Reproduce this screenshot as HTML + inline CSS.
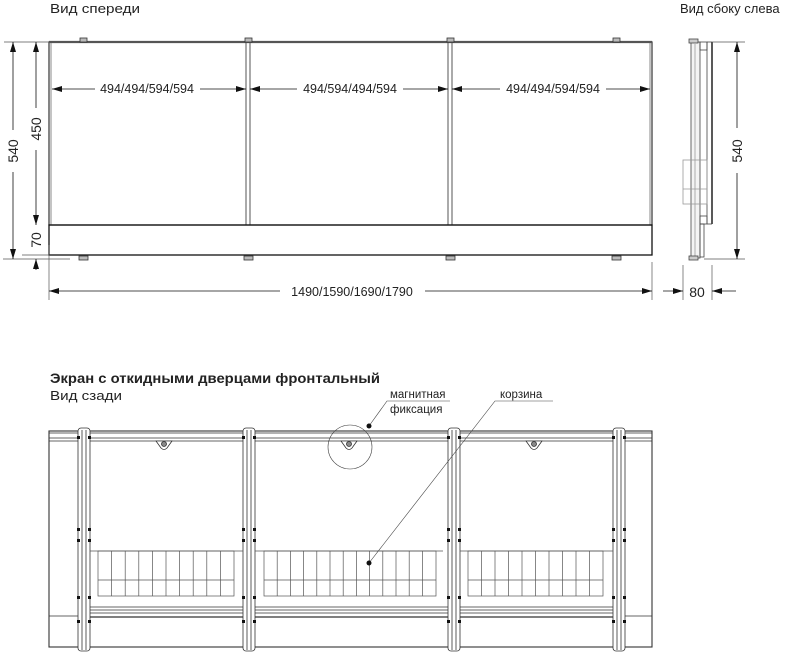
<!DOCTYPE html>
<html><head><meta charset="utf-8"><style>body{margin:0;background:#fff}svg{display:block}text{font-family:"Liberation Sans","DejaVu Sans",sans-serif;fill:#222}</style></head>
<body>
<svg width="800" height="666" viewBox="0 0 800 666" xmlns="http://www.w3.org/2000/svg">
<defs>
<marker id="a" viewBox="0 0 10 6" refX="10" refY="3" markerWidth="10" markerHeight="6" orient="auto-start-reverse" markerUnits="userSpaceOnUse"><path d="M0,0L10,3L0,6z" fill="#111"/></marker>
</defs>
<text x="50" y="13" font-size="13" textLength="90" lengthAdjust="spacingAndGlyphs">Вид спереди</text>
<text x="680" y="13" font-size="13">Вид сбоку слева</text>

<!-- front view -->
<g stroke="#333" fill="none">
<rect x="49" y="42" width="603" height="183" stroke-width="1.2"/>
<line x1="49" y1="42" x2="652" y2="42" stroke-width="2.2" stroke="#555"/>
<line x1="51" y1="43" x2="51" y2="225" stroke="#888"/>
<line x1="650" y1="43" x2="650" y2="225" stroke="#888"/>
<rect x="246" y="42" width="4" height="183" stroke="#555"/>
<rect x="448" y="42" width="4" height="183" stroke="#555"/>
<rect x="49" y="225" width="603" height="30" stroke-width="1.3" stroke="#111"/>
</g>
<g fill="#bbb" stroke="#333" stroke-width="0.8">
<rect x="80" y="38" width="7" height="4"/><rect x="245" y="38" width="7" height="4"/><rect x="447" y="38" width="7" height="4"/><rect x="613" y="38" width="7" height="4"/>
<rect x="79" y="256" width="9" height="4"/><rect x="244" y="256" width="9" height="4"/><rect x="446" y="256" width="9" height="4"/><rect x="612" y="256" width="9" height="4"/>
</g>
<g stroke="#555" stroke-width="0.7">
<line x1="4" y1="42" x2="49" y2="42"/><line x1="3" y1="259" x2="70" y2="259"/><line x1="22" y1="255" x2="49" y2="255"/>
<line x1="49" y1="245" x2="49" y2="300"/><line x1="652" y1="262" x2="652" y2="300"/>
</g>
<g stroke="#111" stroke-width="0.8" fill="none">
<line x1="13" y1="42" x2="13" y2="130" marker-start="url(#a)"/><line x1="13" y1="172" x2="13" y2="259" marker-end="url(#a)"/>
<line x1="36" y1="42" x2="36" y2="108" marker-start="url(#a)"/><line x1="36" y1="150" x2="36" y2="225" marker-end="url(#a)"/>
<line x1="36" y1="270" x2="36" y2="259" marker-end="url(#a)"/>
<line x1="52" y1="89" x2="95" y2="89" marker-start="url(#a)"/><line x1="200" y1="89" x2="246" y2="89" marker-end="url(#a)"/>
<line x1="250" y1="89" x2="297" y2="89" marker-start="url(#a)"/><line x1="403" y1="89" x2="448" y2="89" marker-end="url(#a)"/>
<line x1="452" y1="89" x2="500" y2="89" marker-start="url(#a)"/><line x1="606" y1="89" x2="650" y2="89" marker-end="url(#a)"/>
<line x1="49" y1="291" x2="280" y2="291" marker-start="url(#a)"/><line x1="425" y1="291" x2="652" y2="291" marker-end="url(#a)"/>
</g>
<g font-size="12.5">
<text x="147" y="93" text-anchor="middle">494/494/594/594</text>
<text x="350" y="93" text-anchor="middle">494/594/494/594</text>
<text x="553" y="93" text-anchor="middle">494/494/594/594</text>
<text x="352" y="296" text-anchor="middle">1490/1590/1690/1790</text>
<text transform="translate(18,151) rotate(-90)" text-anchor="middle" font-size="14">540</text>
<text transform="translate(41,129) rotate(-90)" text-anchor="middle" font-size="14">450</text>
<text transform="translate(41,240) rotate(-90)" text-anchor="middle" font-size="14">70</text>
<text transform="translate(742,151) rotate(-90)" text-anchor="middle" font-size="14">540</text>
<text x="697" y="297" text-anchor="middle" font-size="14">80</text>
</g>

<!-- side view -->
<g stroke="#444" fill="none" stroke-width="0.8">
<rect x="691" y="42" width="9" height="216" fill="#f4f4f4"/>
<line x1="695" y1="44" x2="695" y2="256" stroke="#999"/>
<rect x="689" y="39" width="9" height="4" fill="#ccc"/><rect x="689" y="256" width="9" height="4" fill="#ccc"/>
<rect x="700" y="42" width="7" height="8"/>
<rect x="700" y="216" width="7" height="8"/>
<line x1="707" y1="42" x2="707" y2="224"/>
<line x1="712" y1="42" x2="712" y2="224" stroke-width="1.5" stroke="#222"/>
<line x1="707" y1="42" x2="712" y2="42"/><line x1="707" y1="224" x2="712" y2="224"/>
<rect x="700" y="224" width="4" height="33"/>
<rect x="683" y="160" width="24" height="44" stroke="#999"/>
<line x1="683" y1="189" x2="707" y2="189" stroke="#999"/>
</g>
<g stroke="#555" stroke-width="0.7">
<line x1="712" y1="42" x2="745" y2="42"/><line x1="704" y1="259" x2="745" y2="259"/>
<line x1="683" y1="265" x2="683" y2="300"/><line x1="712" y1="265" x2="712" y2="300"/>
</g>
<g stroke="#111" stroke-width="0.8">
<line x1="737" y1="42" x2="737" y2="128" marker-start="url(#a)"/><line x1="737" y1="173" x2="737" y2="259" marker-end="url(#a)"/>
<line x1="663" y1="291" x2="683" y2="291" marker-end="url(#a)"/><line x1="736" y1="291" x2="712" y2="291" marker-end="url(#a)"/>
</g>

<!-- back view -->
<text x="50" y="383" font-size="14" font-weight="bold" textLength="330" lengthAdjust="spacingAndGlyphs">Экран с откидными дверцами фронтальный</text>
<text x="50" y="400" font-size="13" textLength="72" lengthAdjust="spacingAndGlyphs">Вид сзади</text>
<g stroke="#333" fill="none" stroke-width="0.8">
<rect x="49" y="431" width="603" height="216" stroke-width="1.1"/>
<line x1="49" y1="433" x2="652" y2="433"/><line x1="49" y1="438" x2="652" y2="438"/><line x1="49" y1="441" x2="652" y2="441"/>
<line x1="49" y1="616" x2="78" y2="616"/><line x1="624" y1="616" x2="652" y2="616"/>
<line x1="90" y1="607" x2="613" y2="607"/><line x1="90" y1="610" x2="613" y2="610"/><line x1="90" y1="613" x2="613" y2="613"/><line x1="90" y1="617" x2="613" y2="617" stroke-width="1.2"/>
</g>
<g stroke="#333" stroke-width="0.8" fill="#fff">
<rect x="78" y="428" width="12" height="223" rx="3"/><rect x="243" y="428" width="12" height="223" rx="3"/><rect x="448" y="428" width="12" height="223" rx="3"/><rect x="613" y="428" width="12" height="223" rx="3"/>
<line x1="82" y1="430" x2="82" y2="650"/><line x1="86" y1="430" x2="86" y2="650"/>
<line x1="247" y1="430" x2="247" y2="650"/><line x1="251" y1="430" x2="251" y2="650"/>
<line x1="452" y1="430" x2="452" y2="650"/><line x1="456" y1="430" x2="456" y2="650"/>
<line x1="617" y1="430" x2="617" y2="650"/><line x1="621" y1="430" x2="621" y2="650"/>
</g>
<g fill="#111">
<rect x="77" y="436" width="3" height="3"/><rect x="88" y="436" width="3" height="3"/><rect x="77" y="528" width="3" height="3"/><rect x="88" y="528" width="3" height="3"/><rect x="77" y="539" width="3" height="3"/><rect x="88" y="539" width="3" height="3"/><rect x="77" y="596" width="3" height="3"/><rect x="88" y="596" width="3" height="3"/><rect x="77" y="620" width="3" height="3"/><rect x="88" y="620" width="3" height="3"/>
<rect x="242" y="436" width="3" height="3"/><rect x="253" y="436" width="3" height="3"/><rect x="242" y="528" width="3" height="3"/><rect x="253" y="528" width="3" height="3"/><rect x="242" y="539" width="3" height="3"/><rect x="253" y="539" width="3" height="3"/><rect x="242" y="596" width="3" height="3"/><rect x="253" y="596" width="3" height="3"/><rect x="242" y="620" width="3" height="3"/><rect x="253" y="620" width="3" height="3"/>
<rect x="447" y="436" width="3" height="3"/><rect x="458" y="436" width="3" height="3"/><rect x="447" y="528" width="3" height="3"/><rect x="458" y="528" width="3" height="3"/><rect x="447" y="539" width="3" height="3"/><rect x="458" y="539" width="3" height="3"/><rect x="447" y="596" width="3" height="3"/><rect x="458" y="596" width="3" height="3"/><rect x="447" y="620" width="3" height="3"/><rect x="458" y="620" width="3" height="3"/>
<rect x="612" y="436" width="3" height="3"/><rect x="623" y="436" width="3" height="3"/><rect x="612" y="528" width="3" height="3"/><rect x="623" y="528" width="3" height="3"/><rect x="612" y="539" width="3" height="3"/><rect x="623" y="539" width="3" height="3"/><rect x="612" y="596" width="3" height="3"/><rect x="623" y="596" width="3" height="3"/><rect x="612" y="620" width="3" height="3"/><rect x="623" y="620" width="3" height="3"/>
</g>
<g stroke="#333" stroke-width="0.8" fill="#fff">
<path d="M156,441 L172,441 L167,448 Q164,451 161,448 Z"/><circle cx="164" cy="444" r="2.5" fill="#888"/>
<path d="M341,441 L357,441 L352,448 Q349,451 346,448 Z"/><circle cx="349" cy="444" r="2.5" fill="#888"/>
<path d="M526,441 L542,441 L537,448 Q534,451 531,448 Z"/><circle cx="534" cy="444" r="2.5" fill="#888"/>
</g>
<g stroke="#555" stroke-width="0.7" fill="none">
<line x1="90" y1="551" x2="243" y2="551"/><rect x="98" y="551" width="136" height="45"/><line x1="98" y1="580" x2="234" y2="580"/>
<path d="M111.6,551V596M125.2,551V596M138.8,551V596M152.4,551V596M166,551V596M179.6,551V596M193.2,551V596M206.8,551V596M220.4,551V596"/>
<line x1="255" y1="551" x2="443" y2="551"/><rect x="264" y="551" width="172" height="45"/><line x1="264" y1="580" x2="436" y2="580"/>
<path d="M277.2,551V596M290.4,551V596M303.6,551V596M316.8,551V596M330,551V596M343.2,551V596M356.4,551V596M369.6,551V596M382.8,551V596M396,551V596M409.2,551V596M422.4,551V596"/>
<line x1="460" y1="551" x2="613" y2="551"/><rect x="468" y="551" width="135" height="45"/><line x1="468" y1="580" x2="603" y2="580"/>
<path d="M481.5,551V596M495,551V596M508.5,551V596M522,551V596M535.5,551V596M549,551V596M562.5,551V596M576,551V596M589.5,551V596"/>
</g>
<g stroke="#444" stroke-width="0.6" fill="none">
<circle cx="350" cy="447" r="22"/>
<polyline points="369,426 387,401 450,401"/>
<polyline points="369,563 495,401 553,401"/>
</g>
<circle cx="369" cy="426" r="2.5" fill="#111"/><circle cx="369" cy="563" r="2.5" fill="#111"/>
<text x="390" y="398" font-size="11.5">магнитная</text>
<text x="390" y="413" font-size="11.5">фиксация</text>
<text x="500" y="398" font-size="11.5">корзина</text>
</svg>
</body></html>
